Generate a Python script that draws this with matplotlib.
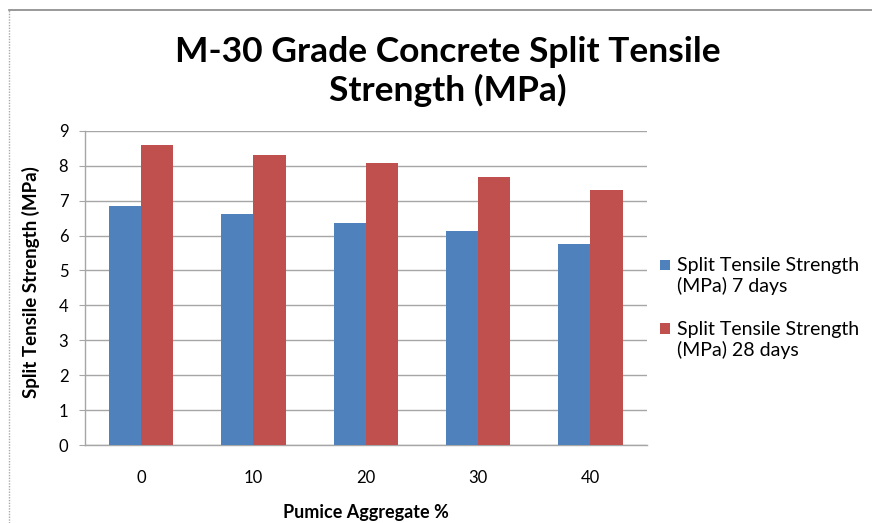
import numpy as np
import matplotlib
matplotlib.use("Agg")
import matplotlib.pyplot as plt
from matplotlib.lines import Line2D
from matplotlib.patches import Rectangle
from matplotlib.container import BarContainer
from matplotlib.legend_handler import HandlerPatch, update_from_first_child

plt.rcParams['font.family'] = ['Lato', 'DejaVu Sans']

# split tensile strength of M-30 concrete vs pumice replacement
pumice_pct = ["0", "10", "20", "30", "40"]
strength_7d = [6.85, 6.61, 6.37, 6.13, 5.75]
strength_28d = [8.58, 8.31, 8.07, 7.69, 7.31]
series_labels = ["Split Tensile Strength\n(MPa) 7 days",
                 "Split Tensile Strength\n(MPa) 28 days"]

fig = plt.figure(figsize=(8.72, 5.23), dpi=100)
ax = fig.add_axes([0.0975, 0.149, 0.644, 0.601])

x = np.arange(len(pumice_pct))
w = 0.286
b1 = ax.bar(x - w / 2, strength_7d, w, color="#4F81BD", label=series_labels[0], zorder=3)
b2 = ax.bar(x + w / 2, strength_28d, w, color="#C0504D", label=series_labels[1], zorder=3)

ax.set_xlim(-0.5, len(pumice_pct) - 0.5)
ax.set_ylim(0, 9)
ax.set_yticks(range(0, 10))
ax.set_xticks(x)
ax.set_xticklabels(pumice_pct)
ax.yaxis.grid(True, color="#a6a6a6", linewidth=1.0, zorder=0)

for side in ["top", "right"]:
    ax.spines[side].set_visible(False)
for side in ["left", "bottom"]:
    ax.spines[side].set_color("#a6a6a6")
    ax.spines[side].set_linewidth(1.0)
ax.tick_params(axis="y", length=4, color="#a6a6a6", labelsize=12, pad=8)
ax.tick_params(axis="x", length=0, labelsize=12, pad=18)

ax.set_ylabel("Split Tensile Strength (MPa)", fontsize=13.5, fontweight="bold")
ax.yaxis.set_label_coords(-0.08, 0.52)
ax.set_xlabel("Pumice Aggregate %", fontsize=13, fontweight="bold")
ax.xaxis.set_label_coords(0.5, -0.186)

fig.text(0.514, 0.863, "M-30 Grade Concrete Split Tensile\nStrength (MPa)",
         ha="center", va="center", fontsize=25.5, fontweight="bold", linespacing=1.22)


# legend squares sit level with the first line of each two-line label
def top_square(legend, orig_handle, xdescent, ydescent, width, height, fontsize):
    side = 0.55 * fontsize
    return Rectangle((-xdescent, -ydescent + 0.62 * fontsize), side, side)


fig.legend(handles=[b1, b2], loc="center left", bbox_to_anchor=(0.7365, 0.411),
           frameon=False, fontsize=14, handlelength=0.55, handleheight=0.55,
           handletextpad=0.35, labelspacing=1.3,
           handler_map={BarContainer: HandlerPatch(patch_func=top_square,
                                                   update_func=update_from_first_child)})

# chart border along the top and left edges
fig.add_artist(Line2D([9 / 872, 1], [1 - 10 / 523] * 2, color="#888888", lw=1.2))
fig.add_artist(Line2D([9 / 872] * 2, [0, 1 - 10 / 523], color="#aaaaaa", lw=1.0,
                      linestyle=(0, (1, 1))))

fig.savefig("out.png", dpi=100)
